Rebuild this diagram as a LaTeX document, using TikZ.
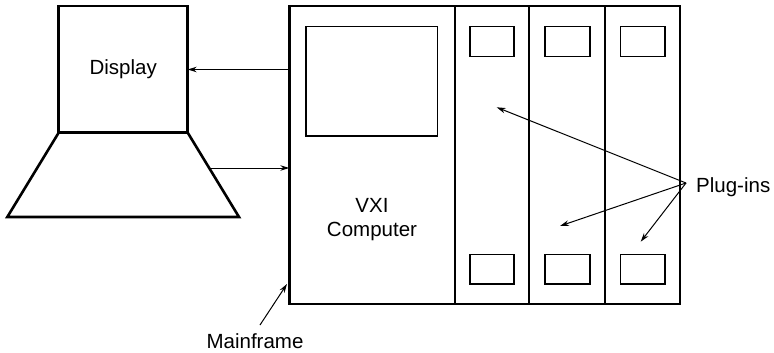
\documentclass[tikz,border=0pt]{standalone}
\usepackage{fontspec}
\setmainfont{Liberation Sans}
\usetikzlibrary{arrows.meta}
\begin{document}
\begin{tikzpicture}[x=1pt,y=-1pt,
  lbl/.style={font=\fontsize{20.5}{23.5}\selectfont, inner sep=0pt, align=center},
  arr/.style={line width=1pt, -{Stealth[length=9pt,width=5.5pt]}},
  heavybox/.style={draw, line width=2.6pt, inner sep=0pt, outer sep=0pt},
  thinline/.style={line width=1.3pt},
  slotbox/.style={line width=1.1pt}]
\useasboundingbox (0,0) rectangle (774,353);
% display monitor
\node[heavybox, minimum width=129pt, minimum height=126.7pt,
      font=\fontsize{20.5}{23.5}\selectfont] (disp) at (123.2,69.3) {Display};
% keyboard / base
\draw[line width=2.6pt, line join=miter] (disp.south west) -- (7.3,217) -- (239,217) -- (disp.south east);
\coordinate (kb) at (209.5,168);
% mainframe
\node[heavybox, minimum width=390.7pt, minimum height=298pt] (mf) at (484.65,155) {};
% slot dividers
\foreach \xx in {455,529,605}
  \draw[thinline] (\xx,6) -- (\xx,304);
% computer screen
\draw[thinline] (306,26.7) rectangle (437.7,136);
% slot windows
\foreach \xa/\xb in {470/514, 545/590, 620.7/665}{
  \draw[slotbox] (\xa,26.7) rectangle (\xb,56.7);
  \draw[slotbox] (\xa,254.7) rectangle (\xb,284);
}
\node[lbl] (vxi) at (372,219.6) {VXI\\Computer};
% connections to display
\draw[arr] (mf.west |- 0,69.5) -- (disp.east |- 0,69.5);
\draw[arr] (kb) -- (mf.west |- kb);
% plug-ins label
\node[lbl, anchor=west] (plug) at (696,187.5) {Plug-ins};
\coordinate (pt) at (686,183);
\coordinate (p1) at (496.7,107.3);
\coordinate (p2) at (560,226);
\coordinate (p3) at (640.7,241.7);
\draw[arr] (pt) -- (p1);
\draw[arr] (pt) -- (p2);
\draw[arr] (pt) -- (p3);
% mainframe label
\node[lbl] (mlab) at (255,341) {Mainframe};
\coordinate (mt) at (260,325);
\coordinate (mh) at (287,284);
\draw[arr] (mt) -- (mh);
\end{tikzpicture}
\end{document}
